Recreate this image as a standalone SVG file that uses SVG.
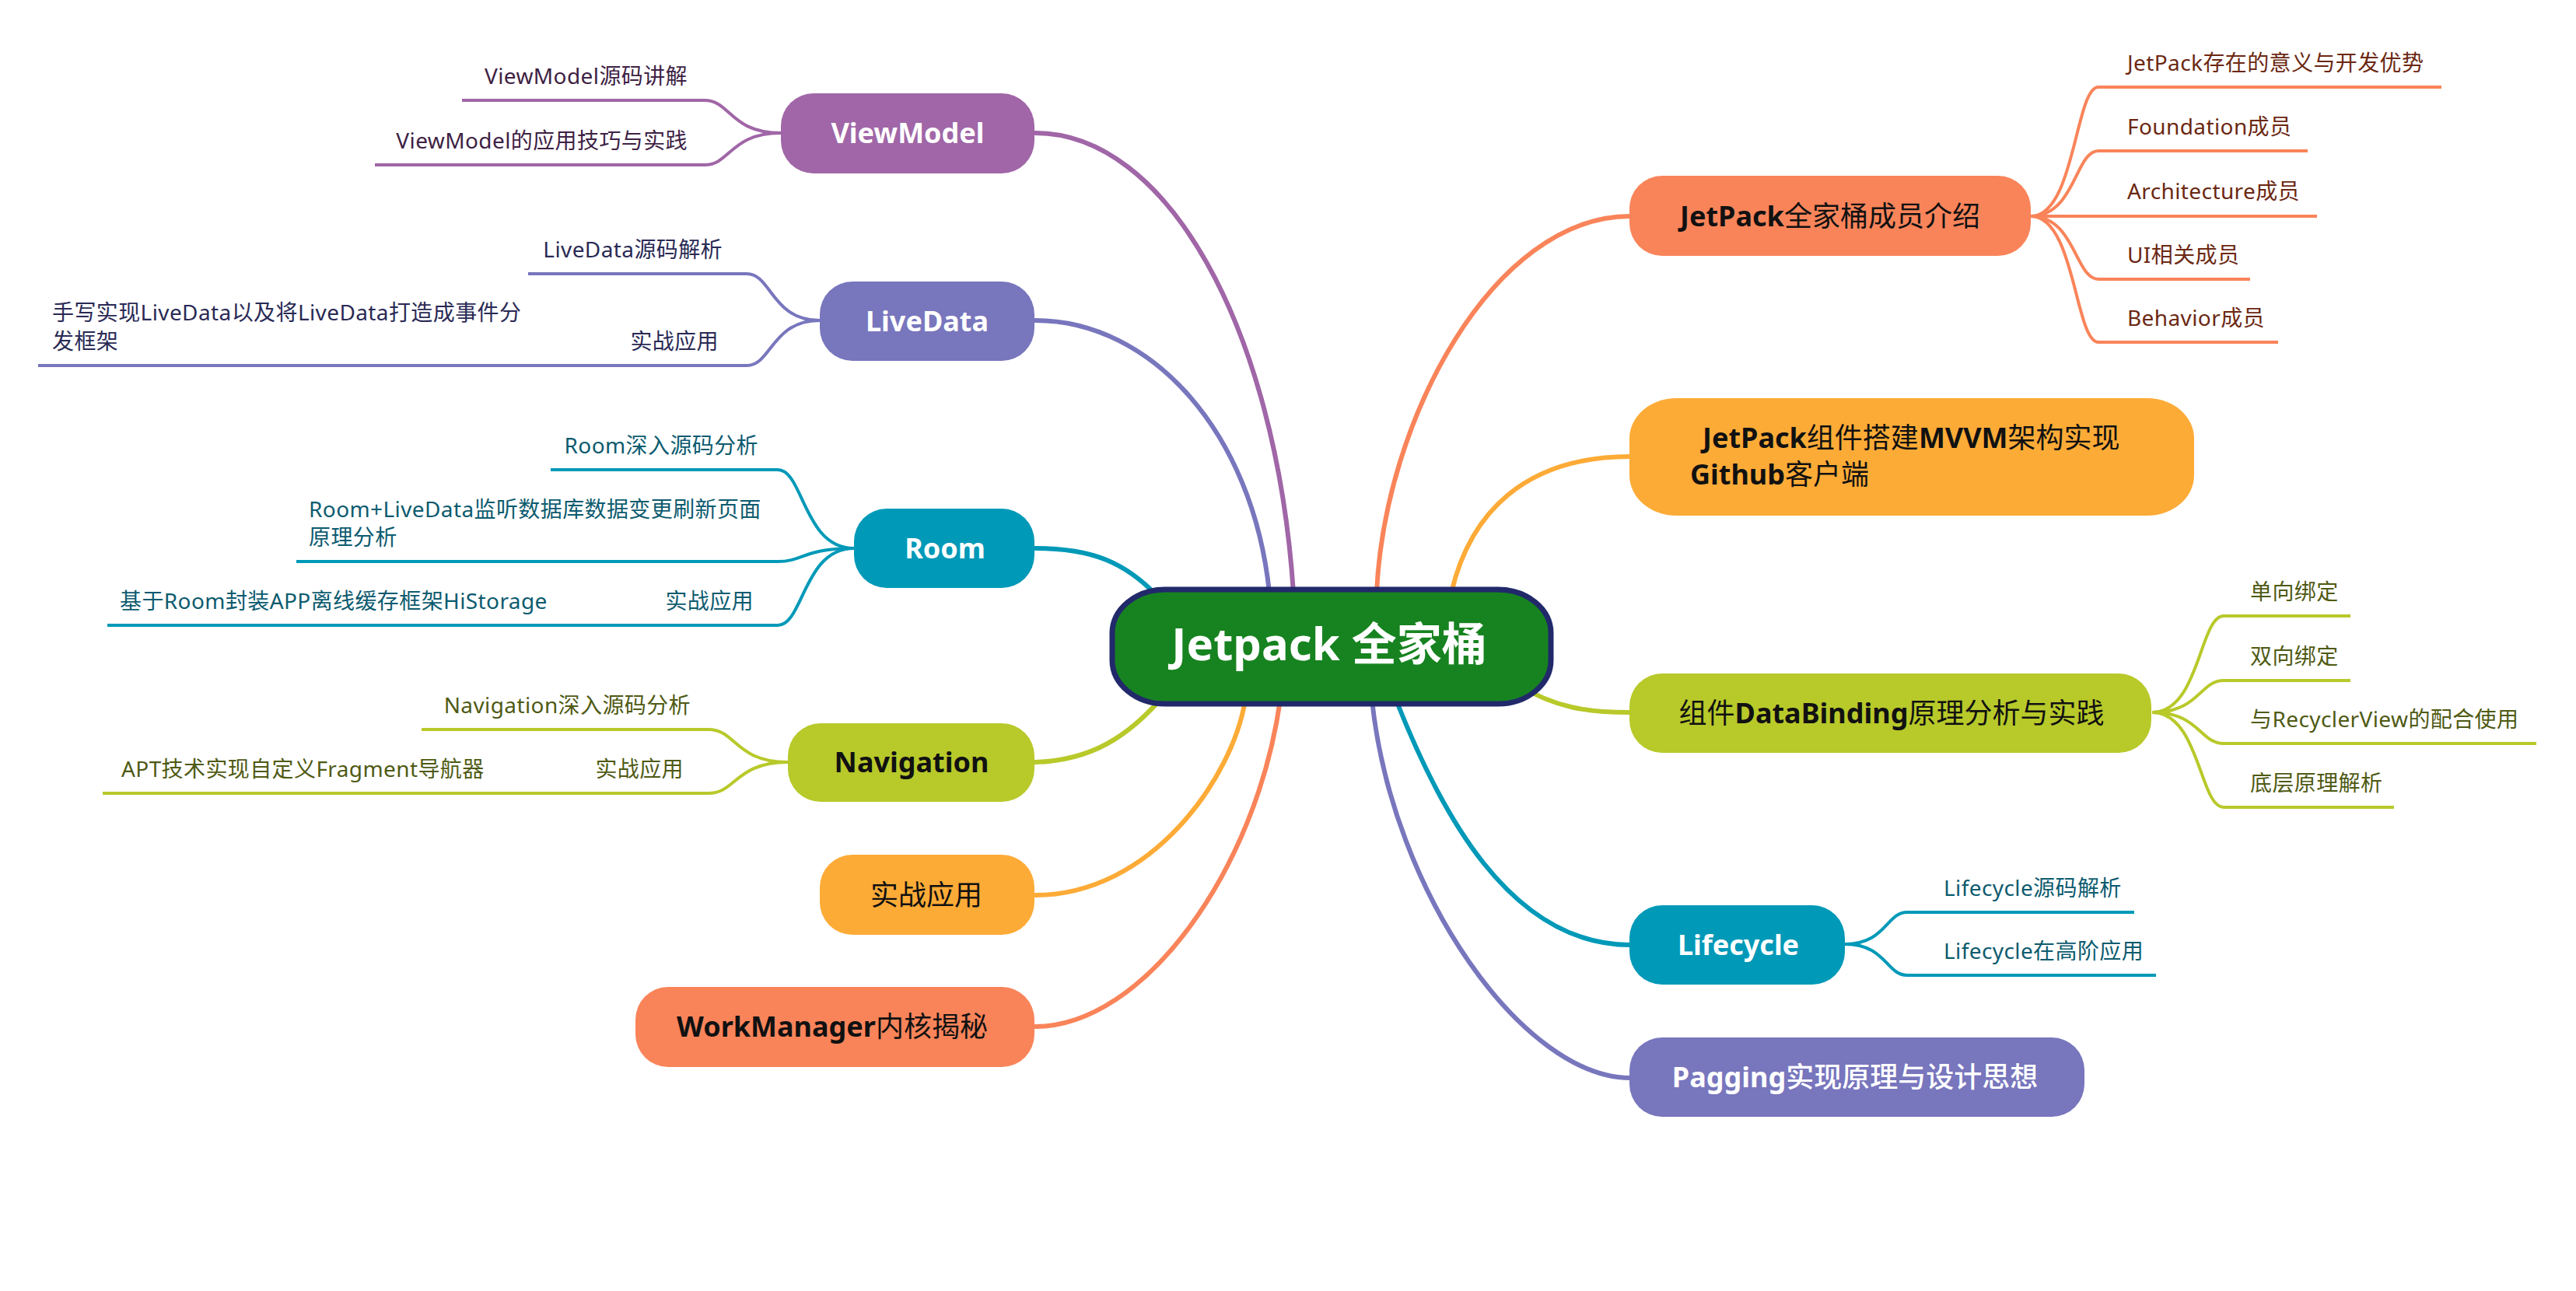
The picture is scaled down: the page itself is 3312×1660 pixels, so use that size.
<svg xmlns="http://www.w3.org/2000/svg" width="3312" height="1660" viewBox="0 0 3312 1660">
<style>
text{font-family:"Noto Sans","Noto Sans CJK SC",sans-serif}
.nt{font-size:36px;font-weight:700;text-anchor:middle}
.cj{font-weight:400}
.st{font-size:28px;letter-spacing:0.4px}
.e{text-anchor:end}
.c{fill:none;stroke-width:6;stroke-linecap:round}
.s{fill:none;stroke-width:4}
.pu{stroke:#a066a7}.sl{stroke:#7876bd}.te{stroke:#0099b8}.gr{stroke:#b8c92a}.or{stroke:#fdab37}.co{stroke:#f9845a}
.fpu{fill:#a066a7}.fsl{fill:#7876bd}.fte{fill:#0099b8}.fgr{fill:#b8c92a}.for{fill:#fdab37}.fco{fill:#f9845a}
.w{fill:#ffffff}.k{fill:#111111}
.tpu{fill:#3e2244}.tsl{fill:#2a2a55}.tte{fill:#0d5b6f}.tgr{fill:#4f5a14}.tco{fill:#6b2812}
</style>
<rect width="3312" height="1660" fill="#ffffff"/>
<g id="connectors">
<path class="c pu" d="M1331,171 C1500,171 1640,420 1663,762"/>
<path class="c sl" d="M1331,412 C1481,412 1611,557 1632,762"/>
<path class="c te" d="M1331,705 C1400,705 1450,720 1500,780"/>
<path class="c gr" d="M1331,980 C1400,978 1450,950 1500,890"/>
<path class="c or" d="M1331,1151 C1480,1151 1585,1000 1601,900"/>
<path class="c co" d="M1331,1320 C1470,1320 1615,1120 1646,900"/>
<path class="c co" d="M1770,762 C1780,540 1920,278 2096,278"/>
<path class="c or" d="M1866,762 C1890,660 1960,587 2096,587"/>
<path class="c gr" d="M1950,880 C2000,910 2040,916 2096,916"/>
<path class="c te" d="M1795,900 C1850,1040 1940,1215 2096,1215"/>
<path class="c sl" d="M1764,900 C1790,1150 1960,1386 2096,1386"/>
<path class="s pu" d="M1004,171 C939,171 939,129 906,129 H594"/>
<path class="s pu" d="M1004,171 C939,171 939,212 906,212 H482"/>
<path class="s sl" d="M1054,412 C992,412 992,352 960,352 H679"/>
<path class="s sl" d="M1054,412 C992,412 992,470 960,470 H49"/>
<path class="s te" d="M1098,705 C1033,705 1033,604 1000,604 H708"/>
<path class="s te" d="M1098,705 C1033,705 1033,722 1000,722 H381"/>
<path class="s te" d="M1098,705 C1033,705 1033,804 1000,804 H138"/>
<path class="s gr" d="M1013,980 C946,980 946,938 911,938 H542"/>
<path class="s gr" d="M1013,980 C946,980 946,1020 911,1020 H132"/>
<path class="s co" d="M2611,278 C2668,278 2668,112 2698,112 H3139"/>
<path class="s co" d="M2611,278 C2668,278 2668,194 2698,194 H2967"/>
<path class="s co" d="M2611,278 H2979"/>
<path class="s co" d="M2611,278 C2668,278 2668,359 2698,359 H2893"/>
<path class="s co" d="M2611,278 C2668,278 2668,440 2698,440 H2929"/>
<path class="s gr" d="M2767,916 C2828,916 2828,792 2859,792 H3022"/>
<path class="s gr" d="M2767,916 C2828,916 2828,875 2859,875 H3022"/>
<path class="s gr" d="M2767,916 C2828,916 2828,956 2859,956 H3261"/>
<path class="s gr" d="M2767,916 C2828,916 2828,1038 2859,1038 H3078"/>
<path class="s te" d="M2372,1214 C2425,1214 2425,1173 2452,1173 H2744"/>
<path class="s te" d="M2372,1214 C2425,1214 2425,1254 2452,1254 H2772"/>
</g>
<g id="center">
<rect x="1430" y="758" width="564" height="147" rx="68" ry="56" fill="#178320" stroke="#21296a" stroke-width="7"/>
<text x="1709" y="849" font-size="58" font-weight="700" text-anchor="middle" fill="#ffffff">Jetpack 全家桶</text>
</g>
<g id="viewmodel">
<rect x="1004" y="120" width="326" height="103" rx="42" class="fpu"/>
<text x="1167" y="184" class="nt w">ViewModel</text>
</g>
<g id="viewmodel-src"><text x="884" y="108" class="st e tpu">ViewModel源码讲解</text></g>
<g id="viewmodel-use"><text x="884" y="191" class="st e tpu">ViewModel的应用技巧与实践</text></g>
<g id="livedata">
<rect x="1054" y="362" width="276" height="102" rx="42" class="fsl"/>
<text x="1192" y="426" class="nt w">LiveData</text>
</g>
<g id="livedata-src"><text x="929" y="331" class="st e tsl">LiveData源码解析</text></g>
<g id="livedata-practice"><text x="924" y="449" class="st e tsl">实战应用</text></g>
<g id="livedata-bus"><text x="67" y="412" class="st tsl">手写实现LiveData以及将LiveData打造成事件分</text><text x="67" y="449" class="st tsl">发框架</text></g>
<g id="room">
<rect x="1098" y="654" width="232" height="102" rx="42" class="fte"/>
<text x="1215" y="718" class="nt w">Room</text>
</g>
<g id="room-src"><text x="975" y="583" class="st e tte">Room深入源码分析</text></g>
<g id="room-livedata"><text x="397" y="665" class="st tte">Room+LiveData监听数据库数据变更刷新页面</text><text x="397" y="701" class="st tte">原理分析</text></g>
<g id="room-practice"><text x="969" y="783" class="st e tte">实战应用</text></g>
<g id="room-histore"><text x="154" y="783" class="st tte">基于Room封装APP离线缓存框架HiStorage</text></g>
<g id="navigation">
<rect x="1013" y="930" width="317" height="101" rx="42" class="fgr"/>
<text x="1172" y="993" class="nt k">Navigation</text>
</g>
<g id="navigation-src"><text x="888" y="917" class="st e tgr">Navigation深入源码分析</text></g>
<g id="navigation-practice"><text x="879" y="999" class="st e tgr">实战应用</text></g>
<g id="navigation-apt"><text x="156" y="999" class="st tgr">APT技术实现自定义Fragment导航器</text></g>
<g id="practice">
<rect x="1054" y="1099" width="276" height="103" rx="42" class="for"/>
<text x="1191" y="1164" class="nt k"><tspan class="cj">实战应用</tspan></text>
</g>
<g id="workmanager">
<rect x="817" y="1269" width="513" height="103" rx="42" class="fco"/>
<text x="1070" y="1333" class="nt k">WorkManager<tspan class="cj">内核揭秘</tspan></text>
</g>
<g id="members">
<rect x="2095" y="226" width="516" height="103" rx="42" class="fco"/>
<text x="2353" y="291" class="nt k">JetPack<tspan class="cj">全家桶成员介绍</tspan></text>
</g>
<g id="members-1"><text x="2735" y="91" class="st tco">JetPack存在的意义与开发优势</text></g>
<g id="members-2"><text x="2735" y="173" class="st tco">Foundation成员</text></g>
<g id="members-3"><text x="2735" y="256" class="st tco">Architecture成员</text></g>
<g id="members-4"><text x="2735" y="338" class="st tco">UI相关成员</text></g>
<g id="members-5"><text x="2735" y="419" class="st tco">Behavior成员</text></g>
<g id="mvvm">
<rect x="2095" y="512" width="726" height="151" rx="60" ry="52" class="for"/>
<text x="2189" y="576" font-size="36" font-weight="700" class="k">JetPack<tspan class="cj">组件搭建</tspan>MVVM<tspan class="cj">架构实现</tspan></text>
<text x="2173" y="623" font-size="36" font-weight="700" class="k">Github<tspan class="cj">客户端</tspan></text>
</g>
<g id="databinding">
<rect x="2095" y="866" width="671" height="102" rx="42" class="fgr"/>
<text x="2432" y="930" class="nt k"><tspan class="cj">组件</tspan>DataBinding<tspan class="cj">原理分析与实践</tspan></text>
</g>
<g id="databinding-1"><text x="2893" y="771" class="st tgr">单向绑定</text></g>
<g id="databinding-2"><text x="2893" y="854" class="st tgr">双向绑定</text></g>
<g id="databinding-3"><text x="2893" y="935" class="st tgr">与RecyclerView的配合使用</text></g>
<g id="databinding-4"><text x="2893" y="1017" class="st tgr">底层原理解析</text></g>
<g id="lifecycle">
<rect x="2095" y="1164" width="277" height="102" rx="42" class="fte"/>
<text x="2235" y="1228" class="nt w">Lifecycle</text>
</g>
<g id="lifecycle-1"><text x="2499" y="1152" class="st tte">Lifecycle源码解析</text></g>
<g id="lifecycle-2"><text x="2499" y="1233" class="st tte">Lifecycle在高阶应用</text></g>
<g id="paging">
<rect x="2095" y="1334" width="585" height="102" rx="42" class="fsl"/>
<text x="2385" y="1398" class="nt w">Pagging<tspan font-weight="500">实现原理与设计思想</tspan></text>
</g>
</svg>
